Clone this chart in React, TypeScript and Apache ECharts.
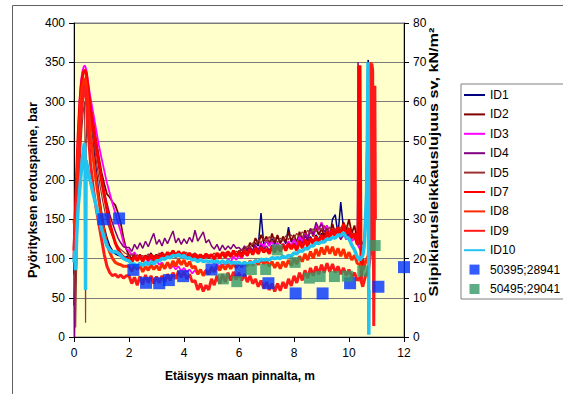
import { useEffect, useRef } from 'react';
import * as echarts from 'echarts';

const FONT = '"Liberation Sans", Arial, sans-serif';

// body grid: x = 2.0 .. 10.3 m, step 0.1
const BODY_X0 = 2.0;
const BODY_DX = 0.1;

// ---------- ID1 (navy)
const id1Head = [[0,40],[0.05,90],[0.1,150],[0.15,200],[0.2,240],[0.25,270],[0.3,300],[0.35,318],[0.4,326],[0.45,332],[0.5,322],[0.55,300],[0.6,282],[0.7,250],[0.8,215],[0.9,185],[1.0,160],[1.1,140],[1.2,126],[1.3,116],[1.4,110],[1.5,106],[1.6,104],[1.7,103],[1.8,101],[1.9,102]];
const id1Body = [
  104,100,106,101,105,99,104,102,107,101,
  105,103,108,102,106,104,109,103,107,105,
  108,102,106,103,107,101,105,102,106,100,
  104,101,106,102,105,103,107,102,106,104,
  108,104,110,106,114,110,120,116,158,118,
  122,116,125,118,128,120,126,119,140,121,
  124,118,127,120,129,122,128,121,130,124,
  132,125,134,128,150,156,130,172,138,132,
  136,128,132,120];
const id1Tail = [[10.4,112],[10.5,106],[10.6,140],[10.65,250],[10.68,345],[10.7,353],[10.72,290],[10.74,180],[10.76,140]];

// ---------- ID2 (maroon)
const id2Head = [[0,80],[0.05,120],[0.1,170],[0.15,215],[0.2,250],[0.25,280],[0.3,300],[0.35,315],[0.4,322],[0.45,325],[0.5,318],[0.6,298],[0.7,275],[0.8,252],[0.9,230],[1.0,210],[1.1,195],[1.2,182],[1.3,178],[1.4,172],[1.5,168],[1.6,158],[1.7,145],[1.8,126],[1.9,112]];
const id2Body = [
  104,99,106,100,105,98,104,100,106,99,
  105,101,107,100,106,102,108,101,106,103,
  107,101,105,100,106,99,104,100,105,101,
  104,100,106,101,107,102,108,103,109,104,
  110,106,114,110,120,115,126,118,130,122,
  128,118,132,120,130,119,128,121,134,122,
  130,120,134,124,136,126,138,128,140,130,
  138,128,142,130,144,132,140,134,146,136,
  150,132,142,124];
const id2Tail = [[10.4,125],[10.5,118],[10.6,130]];

// ---------- ID3 (magenta)
const id3Head = [[0,90],[0.05,150],[0.1,210],[0.15,260],[0.2,300],[0.25,325],[0.3,338],[0.35,344],[0.4,346],[0.45,340],[0.5,328],[0.55,316],[0.6,305],[0.7,285],[0.8,265],[0.9,245],[1.0,228],[1.1,212],[1.2,196],[1.3,183],[1.4,170],[1.5,158],[1.6,146],[1.7,134],[1.8,120],[1.9,112]];
const id3Body = [
  110,104,108,101,104,98,102,96,100,95,
  97,92,95,89,93,87,91,86,90,84,
  88,83,86,81,85,80,84,81,86,83,
  90,86,93,89,97,92,100,95,103,98,
  104,100,108,103,112,107,116,110,120,114,
  124,116,122,114,120,113,119,114,122,116,
  124,118,128,121,132,125,136,130,142,136,
  146,138,142,132,136,128,134,126,132,124,
  130,122,126,118];
const id3Tail = [[10.4,112],[10.5,108]];

// ---------- ID4 (purple)
const id4Head = [[0,95],[0.02,0],[0.04,60],[0.08,120],[0.15,190],[0.2,240],[0.25,275],[0.3,300],[0.35,315],[0.4,320],[0.45,318],[0.5,305],[0.6,280],[0.7,258],[0.8,238],[0.9,220],[1.0,202],[1.1,186],[1.2,170],[1.3,156],[1.4,145],[1.5,135],[1.6,126],[1.7,120],[1.8,115],[1.9,114]];
const id4Body = [
  114,109,118,112,120,113,122,115,124,132,
  118,124,116,126,119,127,135,120,126,118,
  125,119,127,121,136,122,128,134,120,124,
  116,112,118,110,117,111,116,112,118,113,
  114,110,116,111,115,110,116,111,117,112,
  116,110,117,111,116,110,117,112,118,113,
  120,114,124,118,130,124,138,130,146,138,
  144,134,138,128,134,126,132,124,130,126,
  132,126,130,124];
const id4Tail = [[10.31,180],[10.33,350],[10.35,240],[10.37,130],[10.4,118]];

// ---------- ID5 (dark red)
const id5Head = [[0,120],[0.03,70],[0.06,12],[0.09,80],[0.13,140],[0.18,190],[0.23,230],[0.28,262],[0.33,285],[0.38,300],[0.4,250],[0.42,18],[0.44,240],[0.48,300],[0.55,290],[0.65,265],[0.75,240],[0.85,215],[0.95,192],[1.05,172],[1.15,155],[1.25,142],[1.35,132],[1.45,124],[1.55,118],[1.65,113],[1.75,110],[1.85,107],[1.95,105]];
const id5Body = [
  102,106,100,105,99,104,101,106,100,104,
  103,107,101,106,102,108,103,107,102,106,
  104,108,102,106,101,105,100,104,101,105,
  103,107,102,106,104,108,103,107,105,109,
  108,112,110,116,114,120,117,124,120,126,
  122,128,121,127,120,126,122,129,124,130,
  126,132,128,134,130,136,132,138,134,140,
  136,142,134,140,132,138,134,140,136,142,
  138,132,128,122];
const id5Tail = [[10.4,118],[10.5,112]];

// ---------- ID7 (red, upper)
const id7Head = [[0,110],[0.05,160],[0.1,210],[0.15,255],[0.2,290],[0.25,315],[0.3,330],[0.35,338],[0.4,340],[0.45,336],[0.5,320],[0.55,305],[0.6,290],[0.7,268],[0.8,245],[0.9,222],[1.0,200],[1.1,180],[1.2,162],[1.3,145],[1.4,132],[1.5,120],[1.6,112],[1.7,106],[1.8,102],[1.9,100]];
const id7Body = [
  100,95,103,97,104,96,103,98,105,97,
  104,99,107,100,108,102,110,103,109,104,
  108,101,107,100,106,99,105,100,106,101,
  105,99,107,100,108,101,109,102,110,103,
  108,102,110,104,112,105,113,106,114,108,
  112,106,115,108,116,109,118,110,119,112,
  118,110,122,113,124,115,126,118,128,120,
  130,121,134,124,138,126,140,128,144,130,
  138,126,132,118];
const id7Tail = [[10.34,150],[10.36,346],[10.38,300],[10.4,346],[10.42,200],[10.44,70],[10.5,100],[10.55,90]];

// ---------- ID8 (red, middle)
const id8Head = [[0,150],[0.05,130],[0.1,180],[0.15,230],[0.2,270],[0.25,300],[0.3,318],[0.35,325],[0.4,330],[0.45,320],[0.5,300],[0.55,278],[0.6,258],[0.7,228],[0.8,200],[0.9,175],[1.0,152],[1.1,133],[1.2,118],[1.3,108],[1.4,100],[1.5,95],[1.6,93],[1.7,92],[1.8,90],[1.9,90]];
const id8Body = [
  90,84,92,86,91,83,90,85,92,86,
  91,85,93,87,95,88,97,90,99,92,
  98,90,96,88,90,80,86,78,84,80,
  88,83,90,85,92,86,93,87,94,88,
  95,89,96,90,97,91,98,92,99,93,
  98,90,96,88,95,87,96,89,98,91,
  100,93,103,96,106,98,109,100,112,103,
  114,105,116,106,115,104,113,103,112,100,
  108,98,104,94];
const id8Tail = [[10.4,92],[10.5,85],[10.6,95],[10.7,104],[10.75,130],[10.78,345],[10.8,350],[10.82,220],[10.84,110]];

// ---------- ID9 (red, lower)
const id9Head = [[0,100],[0.03,140],[0.06,90],[0.1,150],[0.15,200],[0.2,245],[0.25,280],[0.3,300],[0.35,315],[0.4,320],[0.45,300],[0.5,270],[0.55,245],[0.6,222],[0.7,190],[0.8,165],[0.9,145],[1.0,125],[1.1,105],[1.2,90],[1.3,82],[1.4,78],[1.5,80],[1.6,76],[1.7,79],[1.8,75],[1.9,78]];
const id9Body = [
  78,68,76,66,77,67,79,69,78,68,
  77,69,78,70,80,72,82,74,84,76,
  84,74,80,70,72,60,68,58,66,60,
  74,66,78,68,80,70,82,72,83,73,
  82,72,80,70,78,68,74,64,72,62,
  70,60,68,58,68,59,70,62,74,65,
  78,69,82,72,85,75,88,78,90,80,
  92,82,94,83,93,82,90,80,88,78,
  86,76,82,72];
const id9Tail = [[10.4,76],[10.5,64],[10.6,78],[10.7,84],[10.8,110],[10.83,348],[10.86,340],[10.88,200],[10.9,14],[10.92,130],[10.94,320],[10.96,150]];

// ---------- ID10 (cyan)
const id10Head = [[0,95],[0.03,110],[0.06,85],[0.1,130],[0.15,165],[0.2,185],[0.25,205],[0.3,225],[0.35,240],[0.38,247],[0.4,235],[0.42,60],[0.44,225],[0.5,215],[0.55,205],[0.6,198],[0.7,182],[0.8,168],[0.9,152],[1.0,138],[1.1,126],[1.2,116],[1.3,111],[1.4,108],[1.5,109],[1.6,107],[1.7,104],[1.8,100],[1.9,98]];
const id10Body = [
  97,93,93,90,94,91,95,92,96,93,
  97,97,100,99,102,101,104,103,105,102,
  104,100,101,98,99,96,99,96,97,96,
  97,95,97,94,97,94,97,94,95,94,
  95,92,95,92,95,94,97,96,99,98,
  99,98,101,100,101,100,103,101,104,103,
  107,106,110,109,113,112,116,116,120,119,
  121,121,125,124,127,126,130,129,133,127,
  125,117,111,102];
const id10Tail = [[10.4,98],[10.5,104],[10.55,115],[10.6,150],[10.64,185],[10.67,260],[10.69,350],[10.71,200],[10.72,3],[10.73,60]];

// ---------- scatter (kN/m², right axis)
const blue50395 = [[1.07,30],[1.64,30.2],[2.16,17.1],[2.62,13.8],[3.1,13.7],[3.45,14.5],[3.97,15.5],[5.0,17.2],[6.06,16.9],[7.07,13.7],[8.06,11.1],[9.04,11.1],[10.04,13.7],[11.07,12.8],[12.0,17.8]];
const green50495 = [[5.43,14.8],[5.92,14.1],[6.45,17.2],[6.97,17.2],[7.39,22.2],[8.04,19.0],[8.56,15.0],[8.95,15.4],[9.47,15.4],[9.94,15.5],[10.5,16.8],[10.95,23.3]];

const LINE_SERIES = [
  { name: 'ID1', head: id1Head, body: id1Body, tail: id1Tail, color: '#000080', width: 1.5 },
  { name: 'ID2', head: id2Head, body: id2Body, tail: id2Tail, color: '#800000', width: 1.8 },
  { name: 'ID3', head: id3Head, body: id3Body, tail: id3Tail, color: '#FF00FF', width: 1.8 },
  { name: 'ID4', head: id4Head, body: id4Body, tail: id4Tail, color: '#800080', width: 1.5 },
  { name: 'ID5', head: id5Head, body: id5Body, tail: id5Tail, color: '#993333', width: 1.2 },
  { name: 'ID7', head: id7Head, body: id7Body, tail: id7Tail, color: '#FF0000', width: 3 },
  { name: 'ID8', head: id8Head, body: id8Body, tail: id8Tail, color: '#FF2A00', width: 3 },
  { name: 'ID9', head: id9Head, body: id9Body, tail: id9Tail, color: '#FF1A1A', width: 3 },
  { name: 'ID10', head: id10Head, body: id10Body, tail: id10Tail, color: '#22C3F0', width: 3.5 },
];

function build(head: number[][], body: number[], tail: number[][]) {
  const mid = body.map((v, i) => [Math.round((BODY_X0 + i * BODY_DX) * 100) / 100, v]);
  return [...head, ...mid, ...tail];
}

const SQUARE = 'path://M0,0H10V10H0Z';
const DASH = 'path://M0,0H21V2H0Z';

export default function App() {
  const ref = useRef<HTMLDivElement>(null);
  useEffect(() => {
    if (!ref.current) return;
    const chart = echarts.init(ref.current, undefined, { renderer: 'svg' });
    const axisLine = { show: true, lineStyle: { color: '#000', width: 1 } };
    const axisTick = { show: true, inside: false, length: 5, lineStyle: { color: '#000' } };
    const axisLabel = { color: '#000', fontSize: 12, fontFamily: FONT, margin: 9 };
    const series: any[] = LINE_SERIES.map((s) => ({
      name: s.name,
      type: 'line',
      yAxisIndex: 0,
      symbol: 'none',
      data: build(s.head, s.body, s.tail),
      lineStyle: { color: s.color, width: s.width },
      itemStyle: { color: s.color },
      emphasis: { disabled: true },
    }));
    series.push({
      name: '50395;28941', type: 'scatter', yAxisIndex: 1, symbol: 'rect', symbolSize: 12,
      data: blue50395, itemStyle: { color: '#0033FF' }, z: 5,
    });
    series.push({
      name: '50495;29041', type: 'scatter', yAxisIndex: 1, symbol: 'rect', symbolSize: 11,
      data: green50495, itemStyle: { color: '#339966' }, z: 5,
    });
    chart.setOption({
      animation: false,
      backgroundColor: '#fff',
      grid: { left: 74, right: 159, top: 23, bottom: 57, show: true, backgroundColor: '#FFFFCC', borderColor: '#808080', borderWidth: 1 },
      xAxis: {
        type: 'value', min: 0, max: 12, interval: 2,
        axisLine, axisTick, axisLabel: { ...axisLabel, margin: 10 }, splitLine: { show: false },
      },
      yAxis: [
        {
          type: 'value', min: 0, max: 400, interval: 50, position: 'left',
          axisLine, axisTick, axisLabel,
          splitLine: { show: true, lineStyle: { color: '#7a7a7a', width: 1 } },
        },
        {
          type: 'value', min: 0, max: 80, interval: 10, position: 'right',
          axisLine, axisTick, axisLabel, splitLine: { show: false },
        },
      ],
      legend: {
        orient: 'vertical', left: 461, top: 84,
        padding: [5, 9, 4, 3],
        itemWidth: 21, itemHeight: 10, itemGap: 7.4,
        borderColor: '#808080', borderWidth: 1, backgroundColor: '#fff',
        symbolKeepAspect: true,
        textStyle: { color: '#000', fontSize: 12, fontFamily: FONT },
        data: [
          ...LINE_SERIES.map((s) => ({ name: s.name, icon: DASH })),
          { name: '50395;28941', icon: SQUARE },
          { name: '50495;29041', icon: SQUARE },
        ],
      },
      graphic: [
        { type: 'line', shape: { x1: 12.5, y1: 5.5, x2: 563, y2: 5.5 }, style: { stroke: '#606060', lineWidth: 1 }, silent: true },
        { type: 'line', shape: { x1: 12.5, y1: 5.5, x2: 12.5, y2: 394 }, style: { stroke: '#606060', lineWidth: 1 }, silent: true },
        {
          type: 'text', x: 33, y: 190, rotation: Math.PI / 2, scaleX: 1.07,
          style: { text: 'Pyörityksen erotuspaine, bar', font: `bold 12px ${FONT}`, fill: '#000', align: 'center', verticalAlign: 'middle' },
        },
        {
          type: 'text', x: 434, y: 162, rotation: Math.PI / 2, scaleX: 1.35,
          style: { text: 'Siipikiarusleikkauslujuus sv, kN/m²', font: `bold 12px ${FONT}`, fill: '#000', align: 'center', verticalAlign: 'middle' },
        },
        {
          type: 'text', x: 240, y: 376,
          style: { text: 'Etäisyys maan pinnalta, m', font: `bold 12px ${FONT}`, fill: '#000', align: 'center', verticalAlign: 'middle' },
        },
      ],
      series,
    });
    return () => chart.dispose();
  }, []);
  return <div ref={ref} style={{ position: 'fixed', left: 0, top: 0, width: 563, height: 394 }} />;
}
